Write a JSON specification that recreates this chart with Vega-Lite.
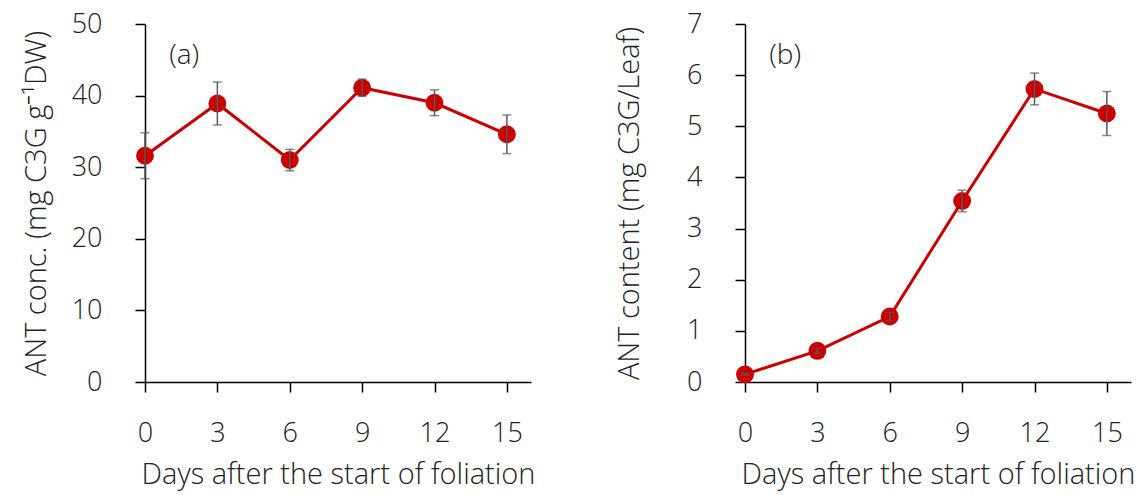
{
  "$schema": "https://vega.github.io/schema/vega-lite/v6.json",
  "padding": {"left": 22, "top": 10, "right": 0, "bottom": 4},
  "background": "white",
  "spacing": 214,
  "bounds": "flush",
  "config": {
    "view": {"stroke": null},
    "font": "Open Sans",
    "axis": {
      "grid": false,
      "domainColor": "#000000",
      "domainWidth": 1.5,
      "tickColor": "#000000",
      "tickWidth": 1.5,
      "tickSize": 10,
      "labelFont": "Open Sans",
      "labelFontSize": 27,
      "labelFontWeight": 300,
      "labelColor": "#222222",
      "titleFont": "Open Sans",
      "titleFontSize": 29,
      "titleFontWeight": 300,
      "titleColor": "#222222"
    },
    "axisX": {"labelPadding": 28, "titlePadding": 14, "labelFlush": false, "labelOverlap": false},
    "axisY": {"labelPadding": 33, "titlePadding": 20, "labelOverlap": false}
  },
  "datasets": {
    "a": [
      {"day": 0, "value": 31.6, "err": 3.2},
      {"day": 3, "value": 38.9, "err": 3.0},
      {"day": 6, "value": 31.0, "err": 1.5},
      {"day": 9, "value": 41.1, "err": 1.2},
      {"day": 12, "value": 39.0, "err": 1.8},
      {"day": 15, "value": 34.6, "err": 2.7}
    ],
    "b": [
      {"day": 0, "value": 0.15, "err": 0.02},
      {"day": 3, "value": 0.61, "err": 0.05},
      {"day": 6, "value": 1.28, "err": 0.08},
      {"day": 9, "value": 3.54, "err": 0.21},
      {"day": 12, "value": 5.73, "err": 0.31},
      {"day": 15, "value": 5.25, "err": 0.43}
    ],
    "labA": [{"day": 1.0, "value": 45.5, "label": "(a)"}],
    "labB": [{"day": 1.0, "value": 6.37, "label": "(b)"}]
  },
  "hconcat": [
    {
      "width": 386,
      "height": 358,
      "encoding": {
        "x": {
          "field": "day", "type": "quantitative",
          "scale": {"domain": [0, 16], "nice": false},
          "axis": {"values": [0, 3, 6, 9, 12, 15], "title": "Days after the start of foliation"}
        },
        "y": {
          "field": "value", "type": "quantitative",
          "scale": {"domain": [0, 50], "nice": false},
          "axis": {"values": [0, 10, 20, 30, 40, 50], "title": "ANT conc. (mg C3G g⁻¹DW)"}
        }
      },
      "layer": [
        {"data": {"name": "a"}, "mark": {"type": "line", "color": "#cc0000", "strokeWidth": 3}},
        {"data": {"name": "a"}, "mark": {"type": "circle", "color": "#cc0000", "size": 320, "opacity": 1}},
        {"data": {"name": "a"}, "mark": {"type": "errorbar", "color": "#595959", "thickness": 1.5, "ticks": {"size": 9, "thickness": 1.5, "color": "#595959"}},
         "encoding": {"yError": {"field": "err"}}},
        {"data": {"name": "labA"}, "mark": {"type": "text", "fontSize": 28, "fontWeight": 300, "color": "#222222", "align": "left", "baseline": "middle", "font": "Open Sans"},
         "encoding": {"text": {"field": "label"}}}
      ]
    },
    {
      "width": 386,
      "height": 358,
      "encoding": {
        "x": {
          "field": "day", "type": "quantitative",
          "scale": {"domain": [0, 16], "nice": false},
          "axis": {"values": [0, 3, 6, 9, 12, 15], "title": "Days after the start of foliation"}
        },
        "y": {
          "field": "value", "type": "quantitative",
          "scale": {"domain": [0, 7], "nice": false},
          "axis": {"values": [0, 1, 2, 3, 4, 5, 6, 7], "title": "ANT content (mg C3G/Leaf)", "titlePadding": 42}
        }
      },
      "layer": [
        {"data": {"name": "b"}, "mark": {"type": "line", "color": "#cc0000", "strokeWidth": 3}},
        {"data": {"name": "b"}, "mark": {"type": "circle", "color": "#cc0000", "size": 320, "opacity": 1}},
        {"data": {"name": "b"}, "mark": {"type": "errorbar", "color": "#595959", "thickness": 1.5, "ticks": {"size": 9, "thickness": 1.5, "color": "#595959"}},
         "encoding": {"yError": {"field": "err"}}},
        {"data": {"name": "labB"}, "mark": {"type": "text", "fontSize": 28, "fontWeight": 300, "color": "#222222", "align": "left", "baseline": "middle", "font": "Open Sans"},
         "encoding": {"text": {"field": "label"}}}
      ]
    }
  ]
}
